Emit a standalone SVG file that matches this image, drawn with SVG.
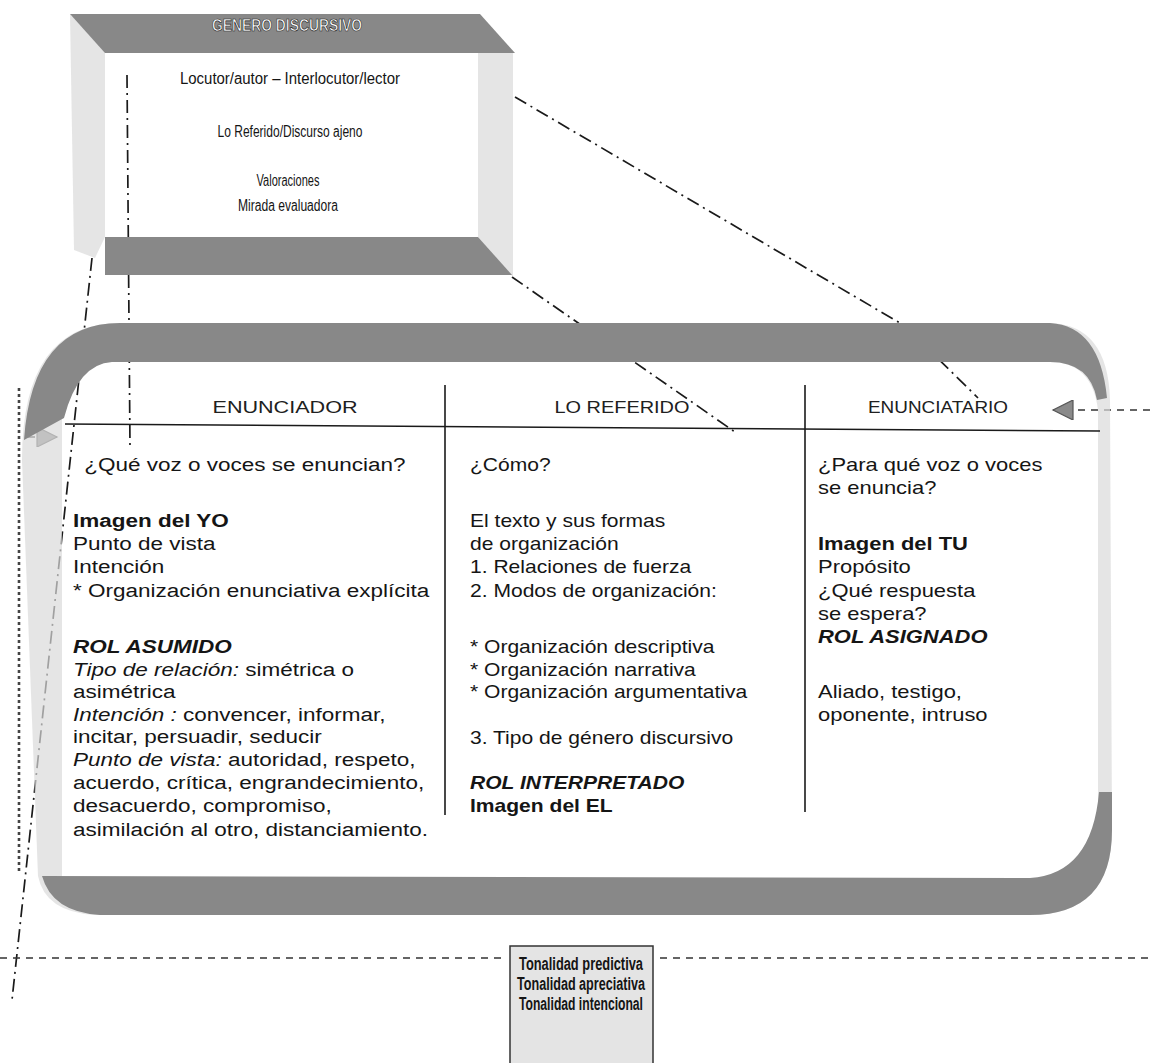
<svg xmlns="http://www.w3.org/2000/svg" width="1150" height="1063" viewBox="0 0 1150 1063">
<defs>
<style>
.t{font-family:"Liberation Sans",Arial,sans-serif;font-size:18px;fill:#151515}
.h{font-family:"Liberation Sans",Arial,sans-serif;font-size:16px;fill:#202020}
.n{font-family:"Liberation Sans Narrow","Liberation Sans",Arial,sans-serif;font-size:16px;fill:#151515}
.b{font-weight:bold}
.i{font-style:italic}
.dd{fill:none;stroke:#1a1a1a;stroke-width:1.7;stroke-dasharray:13 5 2 5}
.da{fill:none;stroke:#333;stroke-width:1.4;stroke-dasharray:7 6}
.band{fill:#888}
.light{fill:#dadada;opacity:0.7}
.rule{stroke:#1a1a1a;stroke-width:1.6;fill:none}
</style>
<marker id="ah" viewBox="0 0 10 10" refX="10" refY="5" markerUnits="userSpaceOnUse" markerWidth="29" markerHeight="20" orient="auto">
<path d="M0,0 L10,5 L0,10 Z" fill="#8a8a8a" stroke="#555" stroke-width="0.6"/>
</marker>
</defs>
<rect width="1150" height="1063" fill="#fff"/>

<g id="connectors">
<polyline class="dd" points="515,97 905,326 978,398"/>
<line class="dd" x1="512" y1="277" x2="735" y2="432"/>
<line class="dd" x1="127" y1="75" x2="130" y2="447"/>
<line class="dd" x1="92" y1="258" x2="12" y2="1000"/>
<line x1="19" y1="388" x2="19" y2="872" stroke="#444" stroke-width="2.6" stroke-dasharray="3 3"/>
<line class="da" x1="1150" y1="410" x2="1053" y2="410" marker-end="url(#ah)"/>
<line class="da" x1="28" y1="437" x2="57" y2="437" stroke-dasharray="3 3" marker-end="url(#ah)"/>
<line class="da" x1="0" y1="958" x2="505" y2="958"/>
<line class="da" x1="660" y1="958" x2="1150" y2="958"/>
</g>

<g id="genero-discursivo">
<path class="light" d="M70,14 L105,52 L105,237 L95,258 L74,250 Z"/>
<path class="light" d="M478,53 L513,53 L513,277 L478,237 Z"/>
<polygon class="band" points="70,14 480,14 515,53 105,53"/>
<polygon class="band" points="105,237 478,237 512,275 105,275"/>
<text x="287" y="31" text-anchor="middle" font-family="Liberation Sans Narrow,Liberation Sans,sans-serif" font-size="17" font-weight="bold" fill="#fff" stroke="#222" stroke-width="0.7" textLength="150" lengthAdjust="spacingAndGlyphs">GENERO DISCURSIVO</text>
<text class="n" x="290" y="84" text-anchor="middle" textLength="220" lengthAdjust="spacingAndGlyphs">Locutor/autor  –  Interlocutor/lector</text>
<text class="n" x="290" y="137" text-anchor="middle" textLength="145" lengthAdjust="spacingAndGlyphs">Lo Referido/Discurso ajeno</text>
<text class="n" x="288" y="186" text-anchor="middle" textLength="63" lengthAdjust="spacingAndGlyphs">Valoraciones</text>
<text class="n" x="288" y="211" text-anchor="middle" textLength="100" lengthAdjust="spacingAndGlyphs">Mirada evaluadora</text>
</g>

<g id="marco">
<path class="light" d="M120,323 L1050,323 Q1108,325 1110,400 L1112,830 Q1112,915 1030,915 L95,915 Q45,912 38,876 L22,460 Q22,323 120,323 Z M110,362 Q62,366 62,420 L62,878 L1040,878 Q1098,876 1098,820 L1098,410 Q1092,362 1050,362 Z" fill-rule="evenodd"/>
<path class="band" d="M120,323 L1050,323 Q1100,326 1107,398 L1097,400 Q1090,362 1050,362 L112,362 Q78,364 64,418 L24,440 Q32,323 120,323 Z"/>
<path class="band" d="M42,876 L1030,878 Q1092,874 1099,792 L1112,792 L1112,830 Q1112,915 1030,915 L100,915 Q52,912 42,876 Z"/>
<line class="rule" x1="65" y1="424" x2="1100" y2="431"/>
<line class="rule" x1="445" y1="385" x2="445" y2="815"/>
<line class="rule" x1="805" y1="385" x2="805" y2="812"/>
</g>

<g id="enunciador">
<text class="h" x="285" y="413" text-anchor="middle" textLength="145" lengthAdjust="spacingAndGlyphs">ENUNCIADOR</text>
<g transform="translate(73,0) scale(1.25,1)">
<text class="t" x="9" y="471">¿Qué  voz o voces se enuncian?</text>
<text class="t b" x="0" y="527">Imagen del YO</text>
<text class="t" x="0" y="550">Punto de vista</text>
<text class="t" x="0" y="573">Intención</text>
<text class="t" x="0" y="597">* Organización enunciativa explícita</text>
<text class="t b i" x="0" y="653">ROL ASUMIDO</text>
<text class="t" x="0" y="676"><tspan class="i">Tipo de relación:</tspan> simétrica o</text>
<text class="t" x="0" y="698">asimétrica</text>
<text class="t" x="0" y="721"><tspan class="i">Intención :</tspan> convencer, informar,</text>
<text class="t" x="0" y="743">incitar, persuadir, seducir</text>
<text class="t" x="0" y="766"><tspan class="i">Punto de vista:</tspan> autoridad, respeto,</text>
<text class="t" x="0" y="789">acuerdo,  crítica, engrandecimiento,</text>
<text class="t" x="0" y="812">desacuerdo, compromiso,</text>
<text class="t" x="0" y="836">asimilación al otro, distanciamiento.</text>
</g>
</g>

<g id="lo-referido">
<text class="h" x="622" y="413" text-anchor="middle" textLength="135" lengthAdjust="spacingAndGlyphs">LO REFERIDO</text>
<g transform="translate(470,0) scale(1.17,1)">
<text class="t" x="0" y="471">¿Cómo?</text>
<text class="t" x="0" y="527">El texto y sus formas</text>
<text class="t" x="0" y="550">de organización</text>
<text class="t" x="0" y="573">1. Relaciones de fuerza</text>
<text class="t" x="0" y="597">2. Modos de organización:</text>
<text class="t" x="0" y="653">* Organización descriptiva</text>
<text class="t" x="0" y="676">* Organización narrativa</text>
<text class="t" x="0" y="698">* Organización argumentativa</text>
<text class="t" x="0" y="744">3. Tipo de género discursivo</text>
<text class="t b i" x="0" y="789">ROL INTERPRETADO</text>
<text class="t b" x="0" y="812">Imagen del EL</text>
</g>
</g>

<g id="enunciatario">
<text class="h" x="938" y="413" text-anchor="middle" textLength="140" lengthAdjust="spacingAndGlyphs">ENUNCIATARIO</text>
<g transform="translate(818,0) scale(1.22,1)">
<text class="t" x="0" y="471">¿Para qué voz o voces</text>
<text class="t" x="0" y="494">se enuncia?</text>
<text class="t b" x="0" y="550">Imagen del TU</text>
<text class="t" x="0" y="573">Propósito</text>
<text class="t" x="0" y="597">¿Qué respuesta</text>
<text class="t" x="0" y="620">se espera?</text>
<text class="t b i" x="0" y="643">ROL ASIGNADO</text>
<text class="t" x="0" y="698">Aliado, testigo,</text>
<text class="t" x="0" y="721">oponente, intruso</text>
</g>
</g>

<g id="tonalidad">
<rect x="510" y="946" width="143" height="130" fill="#e4e4e4" stroke="#333" stroke-width="1.5"/>
<text class="t b" x="581" y="970" text-anchor="middle" font-size="14" textLength="124" lengthAdjust="spacingAndGlyphs">Tonalidad predictiva</text>
<text class="t b" x="581" y="990" text-anchor="middle" font-size="14" textLength="128" lengthAdjust="spacingAndGlyphs">Tonalidad apreciativa</text>
<text class="t b" x="581" y="1010" text-anchor="middle" font-size="14" textLength="124" lengthAdjust="spacingAndGlyphs">Tonalidad intencional</text>
</g>
</svg>
